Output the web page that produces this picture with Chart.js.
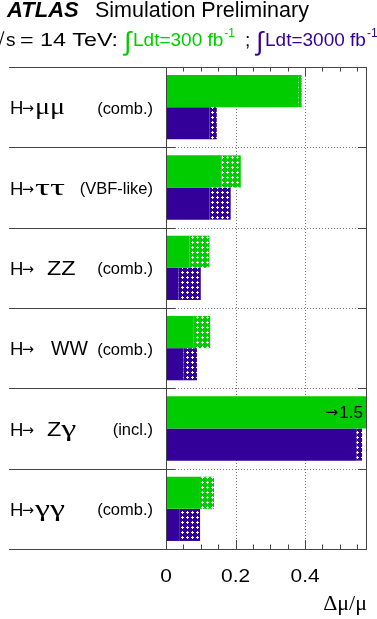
<!DOCTYPE html>
<html>
<head>
<meta charset="utf-8">
<script src="https://cdn.jsdelivr.net/npm/chart.js@4.4.0/dist/chart.umd.min.js"></script>
<style>
  body { margin: 0; background: #fff; }
  canvas { display: block; }
</style>
</head>
<body>
<canvas id="hlChart" width="377" height="619"></canvas>
<script>
// decay channels, top to bottom
const channels = ['μμ', 'ττ', 'ZZ', 'WW', 'Zγ', 'γγ'];
const selections = ['(comb.)', '(VBF-like)', '(comb.)', '(comb.)', '(incl.)', '(comb.)'];

// Δμ/μ, 300 fb-1 : without theory (solid) and with theory (dotted end)
const stat300 = [0.38, 0.16, 0.067, 0.08, 1.45, 0.095];
const total300 = [0.39, 0.215, 0.125, 0.127, 1.5, 0.138];

// Δμ/μ, 3000 fb-1
const stat3000 = [0.125, 0.125, 0.036, 0.05, 0.547, 0.038];
const total3000 = [0.146, 0.186, 0.10, 0.089, 0.564, 0.098];

const xTicks = [0, 0.2, 0.4];
const xMax = 0.578;
const overflowLabel = '1.5';

const green = '#00cc00';
const purple = '#330099';
const FONT = '"Liberation Sans", Arial, sans-serif';
const SERIF = '"Liberation Serif", "Times New Roman", serif';
const ARROW = '"DejaVu Sans", sans-serif';
const GREEK = /[α-ωΑ-Ω]/;

// white dots on a coloured background
function dotted(color) {
  const c = document.createElement('canvas');
  c.width = 5;
  c.height = 5;
  const g = c.getContext('2d');
  g.fillStyle = color;
  g.fillRect(0, 0, 5, 5);
  g.fillStyle = '#fff';
  g.fillRect(2, 1, 1, 3);
  g.fillRect(1, 2, 3, 1);
  return g.createPattern(c, 'repeat');
}

const diff = (a, b) => a.map((v, i) => v - b[i]);

// draws text, optionally stretched horizontally; returns drawn width
function text(ctx, str, x, y, font, color, align, sx) {
  sx = sx || 1;
  ctx.save();
  ctx.font = font;
  ctx.fillStyle = color || '#000';
  ctx.textAlign = align || 'left';
  ctx.textBaseline = 'alphabetic';
  ctx.translate(x, y);
  ctx.scale(sx, 1);
  ctx.fillText(str, 0, 0);
  const w = ctx.measureText(str).width * sx;
  ctx.restore();
  return w;
}

// draws text squeezed/stretched to a given width
function fitText(ctx, str, x, y, font, color, width) {
  ctx.font = font;
  const w = ctx.measureText(str).width;
  return text(ctx, str, x, y, font, color, 'left', width / w);
}

const gridPlugin = {
  id: 'gridPlugin',
  beforeDatasetsDraw(chart) {
    const { ctx, chartArea: a, scales: { x, y } } = chart;
    ctx.save();
    ctx.strokeStyle = '#777';
    ctx.lineWidth = 1;
    ctx.setLineDash([1, 2]);
    ctx.beginPath();
    xTicks.forEach((v) => {
      if (v === 0) return;
      const px = Math.round(x.getPixelForValue(v)) + 0.5;
      ctx.moveTo(px, a.top);
      ctx.lineTo(px, a.bottom);
    });
    for (let i = 0; i < channels.length - 1; i++) {
      const py = Math.round(y.getPixelForValue(i + 0.5)) + 0.5;
      ctx.moveTo(a.left, py);
      ctx.lineTo(a.right, py);
    }
    ctx.stroke();
    ctx.restore();
  },
};

const decorPlugin = {
  id: 'decorPlugin',
  afterDraw(chart) {
    const { ctx, chartArea: a, scales: { x, y } } = chart;
    ctx.save();
    ctx.strokeStyle = '#444';
    ctx.lineWidth = 1;
    ctx.beginPath();
    // frame
    ctx.rect(Math.round(a.left) + 0.5, Math.round(a.top) + 0.5,
      Math.round(a.right - a.left) - 1, Math.round(a.bottom - a.top));
    // x ticks, top and bottom, every 0.05
    for (let k = 0; k * 0.05 <= xMax + 1e-9; k++) {
      const px = Math.round(x.getPixelForValue(k * 0.05)) + 0.5;
      const len = k % 4 === 0 ? 9 : 4.5;
      ctx.moveTo(px, a.top);
      ctx.lineTo(px, a.top + len);
      ctx.moveTo(px, a.bottom);
      ctx.lineTo(px, a.bottom - len);
    }
    // row separators in the label area + short ticks inside
    for (let i = -1; i < channels.length; i++) {
      const py = Math.round(y.getPixelForValue(i + 0.5)) + 0.5;
      ctx.moveTo(9, py);
      ctx.lineTo(a.left + 9, py);
      ctx.moveTo(a.right - 9, py);
      ctx.lineTo(a.right, py);
    }
    ctx.stroke();
    ctx.restore();

    // channel labels
    channels.forEach((ch, i) => {
      const cy = y.getPixelForValue(i);
      text(ctx, 'H', 10, cy + 7, '18.5px ' + FONT);
      fitText(ctx, '→', 22, cy + 6, '15px ' + ARROW, '#000', 12);
      let px = GREEK.test(ch[0]) ? 35 : (ch[0] === 'W' ? 51 : 47);
      for (const c of ch) {
        if (GREEK.test(c)) {
          px += fitText(ctx, c, px, cy + 7, '23px ' + SERIF, '#000', 15);
        } else {
          px += text(ctx, c, px, cy + 7, '19.5px ' + FONT, '#000', 'left', c === 'W' ? 1.0 : 1.2);
        }
      }
      text(ctx, selections[i], 153, cy + 6.5, '16px ' + FONT, '#000', 'right', 1.03);
    });

    // off-scale marker on the 300 fb-1 Zγ bar
    const zg = chart.getDatasetMeta(0).data[4];
    const w15 = text(ctx, overflowLabel, a.right - 4, zg.y + 6, '17px ' + FONT, '#000', 'right');
    fitText(ctx, '→', a.right - 4 - w15 - 14, zg.y + 5, '15px ' + ARROW, '#000', 13);

    // x tick labels and title
    xTicks.forEach((v) => {
      text(ctx, String(v), x.getPixelForValue(v), 582, '19px ' + FONT, '#000', 'center', 1.1);
    });
    text(ctx, 'Δμ/μ', a.right, 610, '22px ' + SERIF, '#000', 'right');

    // header
    text(ctx, 'ATLAS', 7, 17, 'bold italic 22px ' + FONT);
    text(ctx, 'Simulation Preliminary', 95, 17, '21.5px ' + FONT);
    text(ctx, '√', -6, 46, '19px ' + FONT);
    text(ctx, 's', 6, 46, '19px ' + FONT);
    fitText(ctx, '= 14 TeV:', 20, 46, '19px ' + FONT, '#000', 98);
    let px = 124;
    text(ctx, '∫', px, 50, '26px ' + FONT, green);
    px += 9;
    px += text(ctx, 'Ldt=300 fb', px, 46, '19px ' + FONT, green);
    text(ctx, '-1', px + 1, 37, '12px ' + FONT, green);
    text(ctx, ';', 245, 46, '19px ' + FONT);
    px = 256;
    text(ctx, '∫', px, 50, '26px ' + FONT, purple);
    px += 9;
    px += text(ctx, 'Ldt=3000 fb', px, 46, '19px ' + FONT, purple);
    text(ctx, '-1', px + 1, 37, '12px ' + FONT, purple);
  },
};

new Chart(document.getElementById('hlChart'), {
  type: 'bar',
  data: {
    labels: channels,
    datasets: [
      { label: '300 stat', data: stat300, backgroundColor: green, stack: 'L300' },
      { label: '300 theo', data: diff(total300, stat300), backgroundColor: dotted(green), stack: 'L300' },
      { label: '3000 stat', data: stat3000, backgroundColor: purple, stack: 'L3000' },
      { label: '3000 theo', data: diff(total3000, stat3000), backgroundColor: dotted(purple), stack: 'L3000' },
    ],
  },
  options: {
    indexAxis: 'y',
    responsive: false,
    animation: false,
    devicePixelRatio: 1,
    layout: { padding: { left: 166, right: 10, top: 67, bottom: 70 } },
    datasets: { bar: { categoryPercentage: 0.8, barPercentage: 1.0, borderWidth: 0 } },
    scales: {
      x: { type: 'linear', min: 0, max: xMax, stacked: true, display: false },
      y: { type: 'category', display: false, offset: true },
    },
    plugins: { legend: { display: false }, tooltip: { enabled: false } },
  },
  plugins: [gridPlugin, decorPlugin],
});
</script>
</body>
</html>
